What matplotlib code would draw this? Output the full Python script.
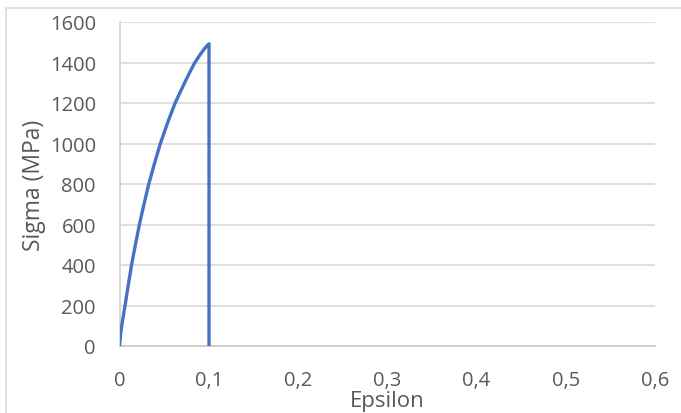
import matplotlib
matplotlib.use("Agg")
import matplotlib.pyplot as plt
from matplotlib.patches import Rectangle

epsilon = [0.0, 0.001, 0.0025, 0.0062, 0.0098, 0.0135, 0.0178, 0.0223, 0.0274, 0.0328,
           0.0391, 0.0458, 0.0537, 0.0623, 0.0730, 0.0785, 0.0845, 0.0905, 0.0955, 0.0985,
           0.1003, 0.1003]
sigma = [0, 50, 100, 200, 300, 400, 500, 600, 700, 800,
         900, 1000, 1100, 1200, 1300, 1350, 1400, 1440, 1470, 1485,
         1492, 0]

xticks = [0, 0.1, 0.2, 0.3, 0.4, 0.5, 0.6]
xticklabels = ["0", "0,1", "0,2", "0,3", "0,4", "0,5", "0,6"]
yticks = [0, 200, 400, 600, 800, 1000, 1200, 1400, 1600]

plt.rcParams['font.family'] = ['Open Sans', 'DejaVu Sans']

W, H = 681, 414
fig = plt.figure(figsize=(W / 100, H / 100), dpi=100)
fig.patch.set_facecolor('white')

# chart border (cropped at right/bottom)
fig.patches.append(Rectangle((6 / W, -0.05), 1.2, 1 - 9 / H + 0.05, transform=fig.transFigure,
                             fill=False, edgecolor='#d9d9d9', linewidth=1.2))

ax = fig.add_axes([119.5 / W, 1 - 347 / H, (655 - 119.5) / W, (347 - 23) / H])
ax.set_xlim(0, 0.6)
ax.set_ylim(0, 1600)

for y in yticks:
    ax.axhline(y, color='#d9d9d9', linewidth=1.2, zorder=0)

ax.plot(epsilon, sigma, color='#4472C4', linewidth=2.4, solid_joinstyle='round',
        solid_capstyle='round', zorder=3)

for s in ['top', 'right']:
    ax.spines[s].set_visible(False)
ax.spines['left'].set_color('#d0d0d0')
ax.spines['bottom'].set_color('#c8c8c8')
ax.spines['left'].set_linewidth(1.2)
ax.spines['bottom'].set_linewidth(1.2)

ax.set_xticks(xticks)
ax.set_xticklabels(xticklabels)
ax.set_yticks(yticks)
ax.tick_params(axis='both', length=0, labelsize=14.5, labelcolor='#595959')
ax.tick_params(axis='y', pad=17)
ax.tick_params(axis='x', pad=17)

ax.set_xlabel('Epsilon', fontsize=16, color='#595959', labelpad=0)
ax.set_ylabel('Sigma (MPa)', fontsize=16.5, color='#595959', labelpad=3)

fig.savefig('out.png', dpi=100)
